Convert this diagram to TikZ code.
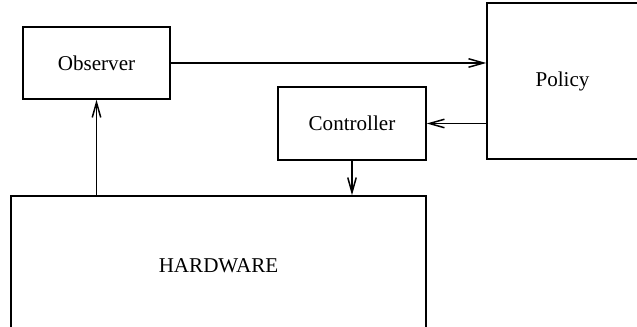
\documentclass[tikz,border=0pt]{standalone}
\usepackage{fontspec}
\setmainfont{Liberation Serif}
\usetikzlibrary{arrows.meta}

\tikzset{
  block/.style={draw,line width=0.85pt,rectangle,inner sep=0pt},
  flow/.style={line width=0.85pt,-{Straight Barb[length=0.3cm,width=0.17cm]}}
}

\begin{document}
\begin{tikzpicture}[x=0.02cm,y=-0.02cm,font=\fontsize{12}{14}\selectfont]
  \clip (0,0) rectangle (637,327);
  % the four blocks
  \node[block,minimum width=2.94cm,minimum height=1.44cm] (observer) at (96.5,63) {Observer};
  \node[block,minimum width=2.96cm,minimum height=1.46cm] (controller) at (352,123.5) {Controller};
  \node[block,minimum width=3.02cm,minimum height=3.12cm] (policy) at (562.5,81) {Policy};
  \node[block,minimum width=8.3cm,minimum height=2.8cm] (hardware) at (218.5,266) {HARDWARE};
  % connections
  \draw[flow] (observer.east) -- (observer.east -| policy.west);
  \draw[flow] (controller.east -| policy.west) -- (controller.east);
  \draw[flow] (controller.south) -- (controller.south |- hardware.north);
  \draw[flow] (observer.south |- hardware.north) -- (observer.south);
\end{tikzpicture}
\end{document}
